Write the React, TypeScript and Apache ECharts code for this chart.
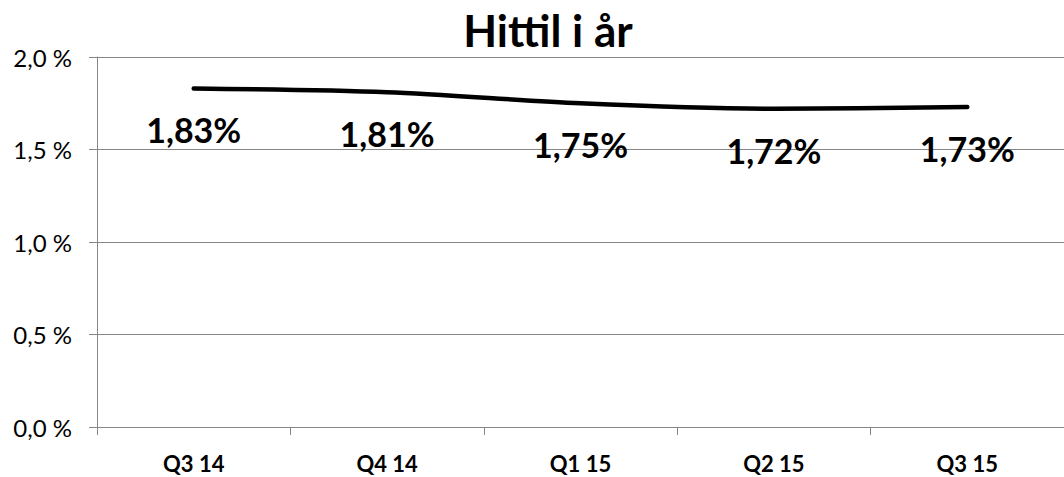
import React, { useEffect, useRef } from "react";
import * as echarts from "echarts";

const categories = ["Q3 14", "Q4 14", "Q1 15", "Q2 15", "Q3 15"];
const values = [1.83, 1.81, 1.75, 1.72, 1.73];
const yTicks = { min: 0, max: 2, interval: 0.5 };
const titleText = "Hittil i år";

const FONT = "Lato";

export default function App() {
  const ref = useRef<HTMLDivElement>(null);
  useEffect(() => {
    document.body.style.margin = "0";
    const chart = echarts.init(ref.current!, null, { renderer: "svg" });
    chart.setOption({
      animation: false,
      title: {
        text: titleText,
        left: 543,
        textAlign: "center",
        top: 3,
        textStyle: { fontFamily: FONT, fontWeight: "bold", fontSize: 44, color: "#000" },
      },
      grid: { left: 97, right: -3, top: 57, bottom: 50 },
      xAxis: {
        type: "category",
        data: categories,
        boundaryGap: true,
        axisLine: { lineStyle: { color: "#868686", width: 1 } },
        axisTick: { show: true, length: 8, lineStyle: { color: "#868686" } },
        axisLabel: {
          fontFamily: FONT,
          fontWeight: "bold",
          fontSize: 22,
          lineHeight: 22,
          color: "#000",
          margin: 25,
        },
      },
      yAxis: {
        type: "value",
        min: yTicks.min,
        max: yTicks.max,
        interval: yTicks.interval,
        axisLine: { show: true, lineStyle: { color: "#868686", width: 1 } },
        axisTick: { show: true, length: 8, lineStyle: { color: "#868686" } },
        splitLine: { lineStyle: { color: "#868686", width: 1 } },
        axisLabel: {
          fontFamily: FONT,
          fontSize: 24,
          color: "#000",
          margin: 25,
          formatter: (v: number) => v.toFixed(1).replace(".", ",") + " %",
        },
      },
      series: [
        {
          type: "line",
          data: values,
          smooth: 0.3,
          symbol: "circle",
          symbolSize: 1,
          showSymbol: true,
          itemStyle: { color: "#000" },
          lineStyle: { color: "#000", width: 4.5, cap: "round" },
          label: {
            show: true,
            position: "bottom",
            distance: 24,
            fontFamily: FONT,
            fontWeight: "bold",
            fontSize: 34,
            color: "#000",
            formatter: (p: any) => p.value.toFixed(2).replace(".", ",") + "%",
          },
        },
      ],
    });
    return () => chart.dispose();
  }, []);
  return <div ref={ref} style={{ width: 1064, height: 477 }} />;
}
